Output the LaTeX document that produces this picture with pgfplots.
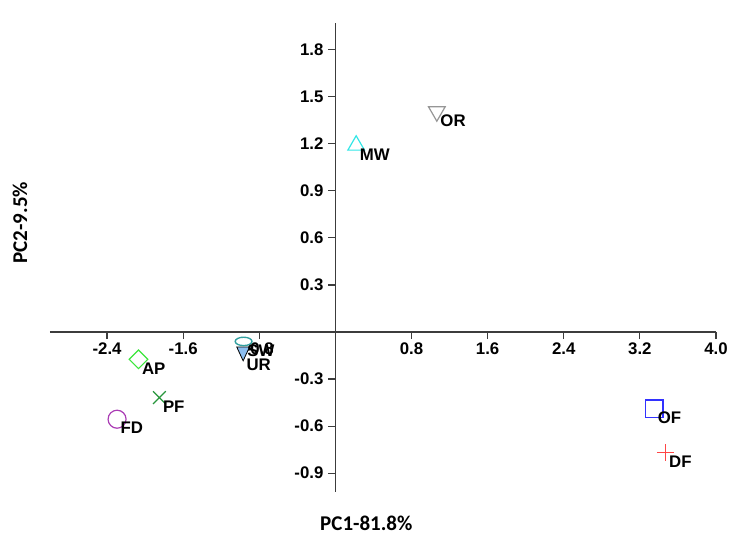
\documentclass[border=0pt]{standalone}
\usepackage{fontspec}
\setmainfont{Liberation Sans}
\newfontfamily\carlito{Carlito}
\usepackage{pgfplots}
\pgfplotsset{compat=1.18}
\definecolor{cAP}{RGB}{60,230,60}
\definecolor{cPF}{RGB}{40,150,60}
\definecolor{cFD}{RGB}{170,60,180}
\definecolor{cOF}{RGB}{50,50,255}
\definecolor{cDF}{RGB}{255,70,70}
\definecolor{cMW}{RGB}{50,230,230}
\definecolor{cOR}{RGB}{150,150,150}
\definecolor{cSW}{RGB}{50,160,160}
\definecolor{cUR}{RGB}{140,190,240}
\definecolor{axgray}{RGB}{60,60,60}
\begin{document}
\begin{tikzpicture}
\begin{axis}[
  scale only axis,
  width=333pt, height=234.5pt,
  xmin=-3.0, xmax=4.0, ymin=-1.02, ymax=1.97,
  axis lines=middle,
  axis line style={axgray, line width=0.75pt, -},
  clip=false,
  xtick={-2.4,-1.6,-0.8,0.8,1.6,2.4,3.2,4.0},
  ytick={-0.9,-0.6,-0.3,0.3,0.6,0.9,1.2,1.5,1.8},
  tick style={axgray, line width=0.6pt},
  major tick length=3.5pt,
  xtick align=outside, ytick align=outside,
  /pgf/number format/assume math mode=true,
  /pgf/number format/fixed,
  /pgf/number format/fixed zerofill,
  /pgf/number format/precision=1,
  ticklabel style={font=\bfseries\fontsize{8.4}{9}\selectfont, text=black},
  xticklabel style={yshift=1.5pt},
  yticklabel style={xshift=1pt},
  xlabel={PC1-81.8\%},
  ylabel={PC2-9.5\%},
  xlabel style={font=\carlito\bfseries\fontsize{10.5}{12}\selectfont, at={(axis description cs:0.475,-0.066)}, anchor=center},
  ylabel style={font=\carlito\bfseries\fontsize{10.5}{12}\selectfont, at={(axis description cs:-0.045,0.574)}, anchor=center, rotate=90},
  point meta=explicit symbolic,
  nodes near coords,
  every node near coord/.style={anchor=west, xshift=1pt, yshift=-4.5pt, font=\bfseries\fontsize{8.4}{9}\selectfont, text=black, inner sep=0.5pt},
  only marks,
]
\addplot[mark=square, mark size=3.3pt, mark options={rotate=45, draw=cAP, line width=0.6pt}] coordinates {(-2.07,-0.174) [AP]};
\addplot[mark=x, mark size=4.5pt, mark options={draw=cPF, line width=0.6pt}] coordinates {(-1.85,-0.418) [PF]};
\addplot[mark=o, mark size=4.5pt, mark options={draw=cFD, line width=0.6pt}] coordinates {(-2.295,-0.556) [FD]};
\addplot[mark=square, mark size=4.4pt, mark options={draw=cOF, line width=0.6pt}] coordinates {(3.35,-0.49) [OF]};
\addplot[mark=+, mark size=4.3pt, mark options={draw=cDF, line width=0.6pt}] coordinates {(3.47,-0.77) [DF]};
\addplot[mark=triangle, mark size=4.8pt, mark options={draw=cMW, line width=0.6pt}] coordinates {(0.218,1.19) [MW]};
\addplot[mark=triangle, mark size=4.8pt, mark options={rotate=180, draw=cOR, line width=0.6pt}] coordinates {(1.066,1.405) [OR]};
\addplot[mark=triangle*, mark size=4.6pt, mark options={rotate=180, xscale=0.8, fill=cUR, draw=none}, every node near coord/.append style={yshift=-2pt}] coordinates {(-0.97,-0.125) [UR]};
\addplot[mark=o, mark size=4.2pt, mark options={yscale=0.5, draw=cSW, line width=0.7pt}] coordinates {(-0.965,-0.06) [SW]};
\coordinate (sw) at (rel axis cs:0,0);
\end{axis}
\pgfresetboundingbox
\path[use as bounding box] ([shift={(-25pt,-21.5pt)}]sw) rectangle ++(364.5pt,267.5pt);
\end{tikzpicture}
\end{document}
